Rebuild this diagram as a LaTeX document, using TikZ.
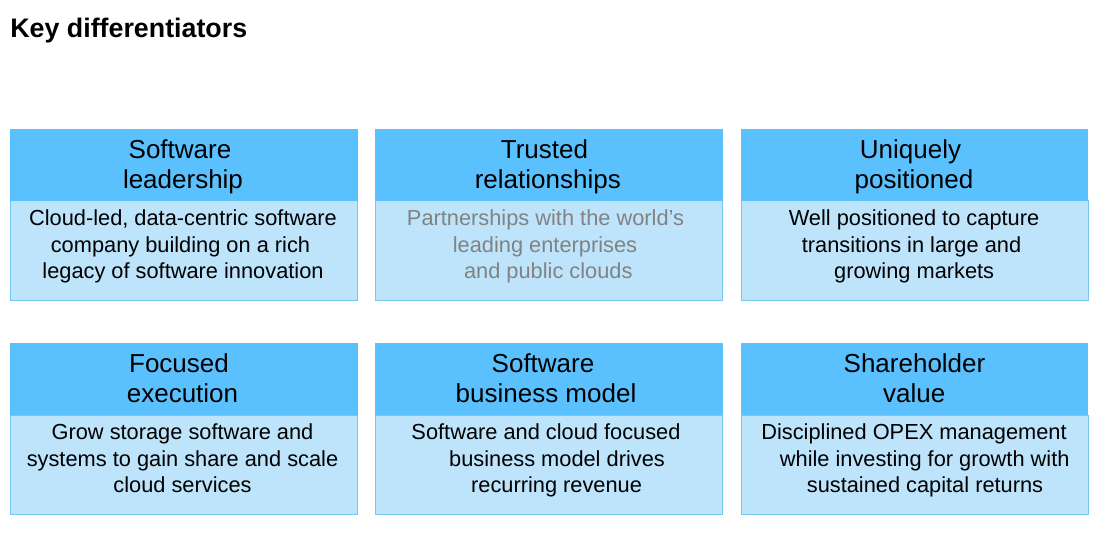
\documentclass[tikz,border=0pt]{standalone}
\usepackage{fontspec}
\setmainfont{Liberation Sans}
\definecolor{hdrblue}{RGB}{91,192,254}
\definecolor{bodyblue}{RGB}{189,228,251}
\definecolor{edgeblue}{RGB}{120,198,243}
\definecolor{graytext}{RGB}{130,130,130}
\begin{document}
\begin{tikzpicture}[x=1pt,y=-1pt,
  hdrbox/.style={fill=hdrblue, draw=none, minimum width=347.5pt, minimum height=72pt, inner sep=0pt, outer sep=0pt, anchor=north west},
  bodybox/.style={fill=bodyblue, draw=edgeblue, line width=1pt, minimum width=347pt, minimum height=99.5pt, inner sep=0pt, outer sep=0pt, anchor=north west},
  hdtxt/.style={anchor=base, inner sep=0pt, font=\fontsize{26}{30}\selectfont},
  bdtxt/.style={anchor=base, inner sep=0pt, font=\fontsize{21.8}{26}\selectfont},
  titletxt/.style={anchor=base west, inner sep=0pt, font=\fontsize{26.8}{30}\selectfont\bfseries}]
\useasboundingbox (0,0) rectangle (1111,540);
\fill[white] (0,0) rectangle (1111,540);

\node[titletxt] (title) at (10.2,37.9) {Key differentiators};

% ---- boxes row 1 ----
\node[bodybox] (b1) at (10.5,201) {};
\node[hdrbox] (h1) at (10,129) {};
\node[bodybox] (b2) at (375.5,201) {};
\node[hdrbox] (h2) at (375,129) {};
\node[bodybox] (b3) at (741,201) {};
\node[hdrbox] (h3) at (740.5,129) {};
% ---- boxes row 2 ----
\node[bodybox] (b4) at (10.5,415) {};
\node[hdrbox] (h4) at (10,343) {};
\node[bodybox] (b5) at (375.5,415) {};
\node[hdrbox] (h5) at (375,343) {};
\node[bodybox] (b6) at (741,415) {};
\node[hdrbox] (h6) at (740.5,343) {};

% ---- card 1 ----
\node[hdtxt] (t1a) at (180,158.5) {Software};
\node[hdtxt] (t1b) at (183,188.5) {leadership};
\node[bdtxt] (t1c) at (183,225.7) {Cloud-led, data-centric software};
\node[bdtxt] (t1d) at (180.5,252.3) {company building on a rich};
\node[bdtxt] (t1e) at (183,278.5) {legacy of software innovation};

% ---- card 2 ----
\node[hdtxt] (t2a) at (544.5,158.5) {Trusted};
\node[hdtxt] (t2b) at (547.8,188.5) {relationships};
\node[bdtxt, text=graytext] (t2c) at (545.5,225.7) {Partnerships with the world’s};
\node[bdtxt, text=graytext] (t2d) at (545,252.3) {leading enterprises};
\node[bdtxt, text=graytext] (t2e) at (548.3,278.5) {and public clouds};

% ---- card 3 ----
\node[hdtxt] (t3a) at (910.5,158.5) {Uniquely};
\node[hdtxt] (t3b) at (914,188.5) {positioned};
\node[bdtxt] (t3c) at (914,225.7) {Well positioned to capture};
\node[bdtxt] (t3d) at (911.5,252.3) {transitions in large and};
\node[bdtxt] (t3e) at (914.2,278.5) {growing markets};

% ---- card 4 ----
\node[hdtxt] (t4a) at (179,372.5) {Focused};
\node[hdtxt] (t4b) at (182.5,402.5) {execution};
\node[bdtxt] (t4c) at (182.5,439.7) {Grow storage software and};
\node[bdtxt] (t4d) at (182.5,466.3) {systems to gain share and scale};
\node[bdtxt] (t4e) at (182.5,492.5) {cloud services};

% ---- card 5 ----
\node[hdtxt] (t5a) at (543,372.5) {Software};
\node[hdtxt] (t5b) at (546,402.5) {business model};
\node[bdtxt] (t5c) at (546,439.7) {Software and cloud focused};
\node[bdtxt] (t5d) at (557,466.3) {business model drives};
\node[bdtxt] (t5e) at (556.6,492.5) {recurring revenue};

% ---- card 6 ----
\node[hdtxt] (t6a) at (914.5,372.5) {Shareholder};
\node[hdtxt] (t6b) at (914.3,402.5) {value};
\node[bdtxt] (t6c) at (914,439.7) {Disciplined OPEX management};
\node[bdtxt] (t6d) at (924.7,466.3) {while investing for growth with};
\node[bdtxt] (t6e) at (925,492.5) {sustained capital returns};
\end{tikzpicture}
\end{document}
